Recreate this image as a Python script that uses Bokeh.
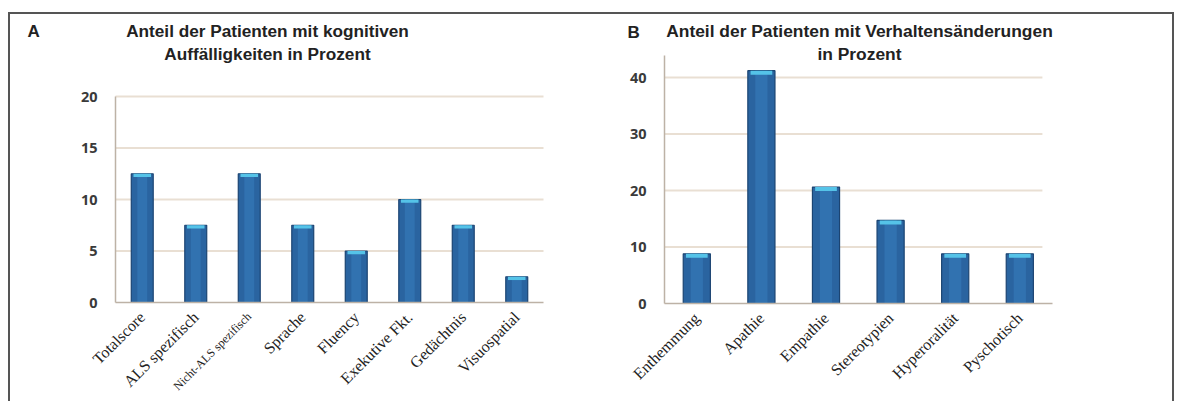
import math
from bokeh.plotting import figure
from bokeh.layouts import row, column
from bokeh.models import Label, Spacer, FixedTicker, LinearAxis
from bokeh.embed import file_html
from bokeh.resources import INLINE

# ---- data ----
cats_a = ["Totalscore", "ALS spezifisch", "Nicht-ALS spezifisch", "Sprache",
          "Fluency", "Exekutive Fkt.", "Gedächtnis", "Visuospatial"]
vals_a = [12.5, 7.5, 12.5, 7.5, 5.0, 10.0, 7.5, 2.5]
ticks_a = [0, 5, 10, 15, 20]
small_a = ["Nicht-ALS spezifisch"]
title_a = ["Anteil der Patienten mit kognitiven", "Auffälligkeiten in Prozent"]

cats_b = ["Enthemmung", "Apathie", "Empathie", "Stereotypien", "Hyperoralität", "Pyschotisch"]
vals_b = [8.8, 41.2, 20.6, 14.7, 8.8, 8.8]
ticks_b = [0, 10, 20, 30, 40]
small_b = []
title_b = ["Anteil der Patienten mit Verhaltensänderungen", "in Prozent"]

BAR = "#2a64a0"
BAR_EDGE = "#1b4472"
BAR_MID = "#3577b6"
BAR_TOP = "#55c3e8"
GRID = "#e9dfd3"
AXIS = "#bdb2a6"

FIG_H = 387


def panel(cats, vals, ticks, ymax, small, titles, letter, fig_w, px_cat, left_px,
          px_unit, zero_px, tx, ty1, ty2, lx, ly, width_frac, grid_to, tsize):
    n = len(cats)
    xr = (-left_px / px_cat, (fig_w - left_px) / px_cat)
    yr = (-zero_px / px_unit, (FIG_H - zero_px) / px_unit)
    p = figure(x_range=xr, y_range=yr, frame_width=fig_w, frame_height=FIG_H,
               output_backend="svg", toolbar_location=None,
               min_border=0, min_border_left=0, min_border_right=0,
               min_border_top=0, min_border_bottom=0)
    p.outline_line_color = None
    p.background_fill_color = "white"
    p.border_fill_color = "white"
    p.xgrid.visible = False
    p.ygrid.visible = False

    # horizontal grid lines from the tick values
    gt = [t for t in ticks if t > 0]
    p.segment(x0=[0] * len(gt), x1=[grid_to] * len(gt), y0=gt, y1=gt,
              line_color=GRID, line_width=2)

    centers = [i + 0.5 for i in range(n)]
    cap = ymax * 0.016
    p.vbar(x=centers, top=vals, width=width_frac, fill_color=BAR,
           line_color=BAR_EDGE, line_width=1.2)
    p.vbar(x=centers, top=vals, width=width_frac * 0.45, fill_color=BAR_MID,
           line_color=None, fill_alpha=0.7)
    p.vbar(x=centers, top=vals, bottom=[v - cap for v in vals], width=width_frac * 0.8,
           fill_color=BAR_TOP, line_color=None)

    # y axis
    ya = p.yaxis[0]
    ya.fixed_location = 0
    ya.bounds = (0, ymax)
    ya.ticker = FixedTicker(ticks=ticks)
    ya.axis_line_color = AXIS
    ya.axis_line_width = 1.5
    ya.major_tick_line_color = None
    ya.minor_tick_line_color = None
    ya.major_label_text_font = "Open Sans"
    ya.major_label_text_font_style = "bold"
    ya.major_label_text_font_size = "14.5px"
    ya.major_label_text_color = "#3a3a3a"
    ya.major_label_standoff = 12

    # x axis (regular labels)
    xa = p.xaxis[0]
    xa.fixed_location = 0
    xa.bounds = (0, n)
    big_c = [c for c, lab in zip(centers, cats) if lab not in small]
    xa.ticker = FixedTicker(ticks=big_c)
    xa.major_label_overrides = {c: lab for c, lab in zip(centers, cats)}
    xa.axis_line_color = AXIS
    xa.axis_line_width = 1.5
    xa.major_tick_line_color = None
    xa.minor_tick_line_color = None
    xa.major_label_text_font = "Liberation Serif"
    xa.major_label_text_font_size = "16px"
    xa.major_label_text_color = "#222222"
    xa.major_label_orientation = math.pi / 4
    xa.major_label_standoff = 6

    small_c = [c for c, lab in zip(centers, cats) if lab in small]
    if small_c:
        xa2 = LinearAxis(fixed_location=0, ticker=FixedTicker(ticks=small_c),
                         major_label_overrides={c: lab for c, lab in zip(centers, cats)},
                         axis_line_color=None, major_tick_line_color=None,
                         minor_tick_line_color=None,
                         major_label_text_font="Liberation Serif",
                         major_label_text_font_size="12px",
                         major_label_text_color="#222222",
                         major_label_orientation=math.pi / 4,
                         major_label_standoff=6)
        p.add_layout(xa2, "below")

    common = dict(x_units="screen", y_units="screen", text_font="Liberation Sans",
                  text_font_style="bold", text_color="#222222",
                  text_baseline="alphabetic")
    p.add_layout(Label(x=lx, y=ly, text=letter, text_font_size="17px", **common))
    p.add_layout(Label(x=tx, y=ty1, text=titles[0], text_align="center",
                       text_font_size=tsize, **common))
    p.add_layout(Label(x=tx, y=ty2, text=titles[1], text_align="center",
                       text_font_size=tsize, **common))
    return p


pa = panel(cats_a, vals_a, ticks_a, 20, small_a, title_a, "A", 580, 53.5, 105,
           10.3, 99, 257, 370.5, 348, 17, 370, 0.41, len(cats_a), "17.2px")
pb = panel(cats_b, vals_b, ticks_b, 43.9, small_b, title_b, "B", 582, 64.6, 74,
           5.65, 98, 269, 371, 348, 37, 369, 0.42, len(cats_b) - 0.15, "17.4px")

inner = row(pa, pb, styles={"border-top": "2px solid #555", "border-left": "2px solid #555",
                            "border-right": "2px solid #555"})
layout = column(Spacer(height=12), row(Spacer(width=8), inner))

open("out.html", "w").write(file_html(layout, INLINE))
